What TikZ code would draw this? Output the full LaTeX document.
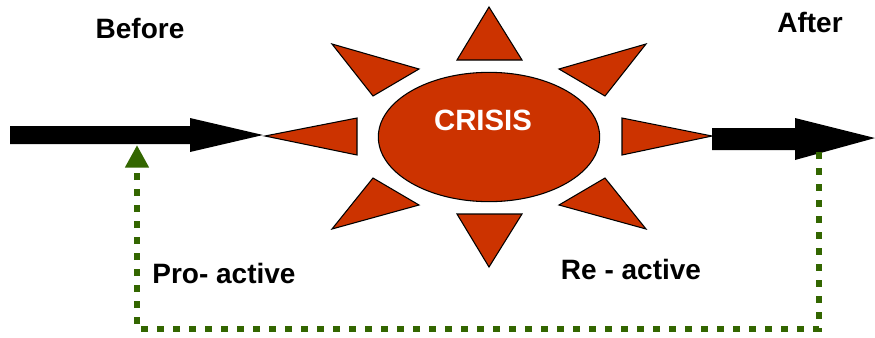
\documentclass[tikz,border=0pt]{standalone}
\usepackage{fontspec}
\setmainfont{Liberation Sans}
\usepackage{tikz}
\usetikzlibrary{shapes.geometric,arrows.meta}
\definecolor{crisisred}{RGB}{204,51,0}
\definecolor{loopgreen}{RGB}{51,102,0}

\begin{document}
\begin{tikzpicture}[x=0.75pt,y=-0.75pt,
                    ray/.style={fill=crisisred,draw=black,line width=0.8pt,line join=miter},
                    bigarrow/.style={fill=black},
                    label/.style={font=\fontsize{21}{25}\selectfont\bfseries,anchor=base},
                    loop/.style={draw=loopgreen,line width=5pt,dash pattern=on 5.2pt off 6.8pt}]
    \useasboundingbox (0,0) rectangle (875,337);

    % the crisis and its rays
    \node[ellipse,fill=crisisred,draw=black,line width=0.8pt,
          minimum width=166pt,minimum height=97pt] (crisis) at (489,137) {};
    \node[font=\fontsize{22}{26}\selectfont\bfseries,text=white,anchor=base] (crisistext) at (483,130) {CRISIS};
    \draw[ray] (489,7) -- (522,60) -- (457,60) -- cycle;
    \draw[ray] (489,267) -- (522,214) -- (457,214) -- cycle;
    \draw[ray] (265,136) -- (357,118) -- (357,155) -- cycle;
    \draw[ray] (712,136) -- (622,118) -- (622,155) -- cycle;
    \draw[ray] (332,44) -- (419,69) -- (373,96) -- cycle;
    \draw[ray] (646,44) -- (559,69) -- (605,96) -- cycle;
    \draw[ray] (332,229) -- (419,205) -- (373,178) -- cycle;
    \draw[ray] (646,229) -- (559,205) -- (605,178) -- cycle;

    % before and after
    \fill[bigarrow] (10,126) -- (190,126) -- (190,118) -- (263,135) -- (190,152) -- (190,144) -- (10,144) -- cycle;
    \fill[bigarrow] (712,128) -- (795,128) -- (795,118) -- (875,138) -- (795,160) -- (795,150) -- (712,150) -- cycle;
    \coordinate (after) at (819,152);
    \coordinate (before) at (137,145);
    \coordinate (afterlow) at (819,329);
    \coordinate (beforelow) at (137,329);

    \node[label] (beforetext) at (140,38) {Before};
    \node[label] (aftertext) at (810,32) {After};
    \node[label] (pro) at (224,283) {Pro- active};
    \node[label] (re) at (631,279) {Re - active};

    % feedback from after to before
    \draw[loop,-{Triangle[width=17pt,length=17pt]}] (after) -- (afterlow) -- (beforelow) -- (before);
\end{tikzpicture}
\end{document}
